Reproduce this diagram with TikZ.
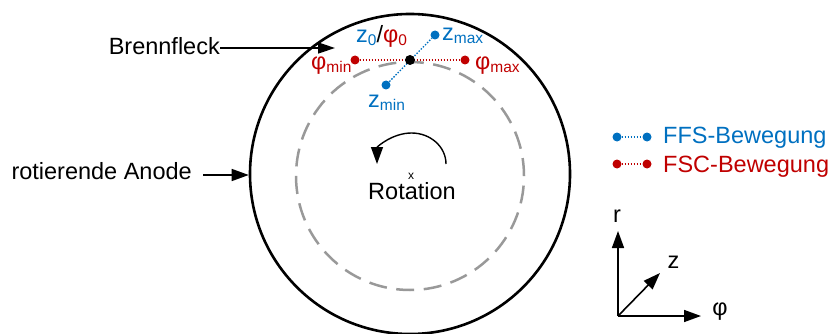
\documentclass[tikz,border=0pt]{standalone}
\usepackage{fontspec}
\setmainfont{Liberation Sans}
\usetikzlibrary{arrows.meta}
\definecolor{fblue}{HTML}{0070C0}
\definecolor{fred}{HTML}{C00000}
\definecolor{dgray}{HTML}{999999}
\newcommand\subtx[1]{\raisebox{-3pt}{\fontsize{15.5}{15.5}\selectfont #1}}
\begin{document}
\begin{tikzpicture}[x=1pt,y=-1pt,
  txt/.style={inner sep=0pt, font=\fontsize{23.5}{27}\selectfont},
  dotb/.style={circle, fill=fblue, inner sep=0pt, minimum size=9pt},
  dotr/.style={circle, fill=fred, inner sep=0pt, minimum size=9pt},
  dotk/.style={circle, fill=black, inner sep=0pt, minimum size=10pt},
  arr/.style={-{Triangle[length=17pt,width=12pt]}, line width=1.6pt},
  bline/.style={fblue, dash pattern=on 1.5pt off 1.5pt, line width=1.3pt},
  rline/.style={fred, dash pattern=on 1.5pt off 1.5pt, line width=1.3pt}
]
\useasboundingbox (0,0) rectangle (829,334);
% anode
\node[circle, draw, line width=2.6pt, minimum size=320pt, inner sep=0pt] (anode) at (410,174) {};
\draw[dgray, line width=2.5pt, dash pattern=on 18pt off 9.55pt] (410,176) circle[radius=114pt];
% rotation
\coordinate (rotstart) at (446,164);
\draw[arr, line width=1.4pt] (rotstart) arc[start angle=0, end angle=180, x radius=34.5pt, y radius=31pt];
\node[inner sep=0pt, font=\fontsize{12}{12}\selectfont, anchor=base] (xmark) at (411,179.5) {x};
\node[txt, anchor=base] (rot) at (412,199) {Rotation};
% focal spot
\node[dotr] (phimin) at (355,60) {};
\node[dotr] (phimax) at (465,60) {};
\node[dotb] (zmin) at (386,85) {};
\node[dotb] (zmax) at (435,35) {};
\draw[rline] (phimin) -- (phimax);
\draw[bline] (zmin) -- (zmax);
\node[dotk] (center) at (410,60) {};
\node[txt, anchor=base west] (lz0) at (356,43) {\textcolor{fblue}{z\subtx{0}}/\textcolor{fred}{φ\subtx{0}}};
\node[txt, anchor=base west, text=fblue] (lzmax) at (442,41) {z\subtx{max}};
\node[txt, anchor=base west, text=fblue] (lzmin) at (368,107) {z\subtx{min}};
\node[txt, anchor=base west, text=fred] (lphimin) at (311,70) {φ\subtx{min}};
\node[txt, anchor=base west, text=fred] (lphimax) at (475,70) {φ\subtx{max}};
% labels left
\node[txt, anchor=base east] (bf) at (220,55) {Brennfleck};
\coordinate (bftip) at (335,48);
\draw[-{Triangle[length=17pt,width=11pt]}, line width=1.5pt] (bf.east |- bftip) -- (bftip);
\node[txt, anchor=base east] (ra) at (192,179) {rotierende Anode};
\coordinate (rastart) at (203,175);
\draw[arr] (rastart) -- (rastart -| anode.west);
% legend
\node[dotb] (lb1) at (617,137) {};
\node[dotb] (lb2) at (647,137) {};
\draw[bline] (lb1) -- (lb2);
\node[txt, anchor=base west, text=fblue] (lffs) at (663,143) {FFS-Bewegung};
\node[dotr] (lr1) at (617,164) {};
\node[dotr] (lr2) at (647,164) {};
\draw[rline] (lr1) -- (lr2);
\node[txt, anchor=base west, text=fred] (lfsc) at (663,172) {FSC-Bewegung};
% axes
\coordinate (org) at (618,316);
\coordinate (rtip) at (618,231);
\coordinate (ptip) at (701,316);
\coordinate (ztip) at (660,273);
\draw[arr] (org) -- (rtip);
\draw[arr] (org) -- (ptip);
\draw[arr] (org) -- (ztip);
\node[txt, anchor=base] (lr) at (617,222) {r};
\node[txt, anchor=base] (lzax) at (673.5,268) {z};
\node[txt, anchor=base] (lphi) at (720,315) {φ};
\end{tikzpicture}
\end{document}
